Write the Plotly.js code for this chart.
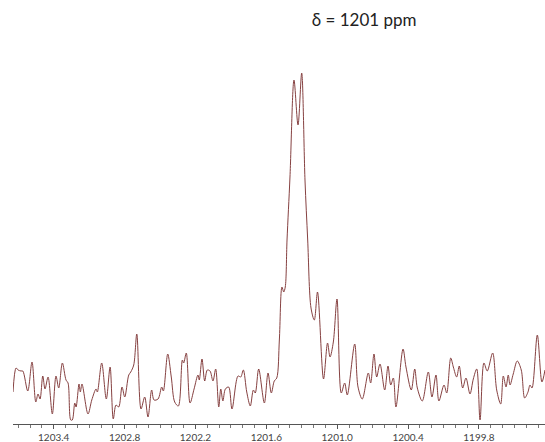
<!DOCTYPE html>
<html>
<head>
<meta charset="utf-8">
<script src="https://cdn.plot.ly/plotly-3.0.1.min.js"></script>
<style>html,body{margin:0;padding:0;background:#fff;}#chart{width:545px;height:442px;}</style>
</head>
<body>
<div id="chart"></div>
<script>
// Chemical shift (ppm) and intensity (arbitrary units)
const shiftPpm = [
  1203.745, 1203.719, 1203.702, 1203.677, 1203.662, 1203.620, 1203.584, 1203.552, 1203.533, 1203.516,
  1203.493, 1203.474, 1203.448, 1203.412, 1203.381, 1203.358, 1203.327, 1203.296, 1203.279, 1203.256,
  1203.243, 1203.222, 1203.211, 1203.186, 1203.175, 1203.161, 1203.110, 1203.078, 1203.042, 1203.031,
  1202.994, 1202.955, 1202.923, 1202.896, 1202.873, 1202.850, 1202.822, 1202.799, 1202.765, 1202.748,
  1202.723, 1202.697, 1202.661, 1202.630, 1202.602, 1202.571, 1202.551, 1202.517, 1202.486, 1202.472,
  1202.435, 1202.405, 1202.376, 1202.345, 1202.311, 1202.300, 1202.278, 1202.246, 1202.212, 1202.179,
  1202.168, 1202.145, 1202.122, 1202.100, 1202.077, 1202.052, 1202.029, 1202.003, 1201.986, 1201.968,
  1201.947, 1201.919, 1201.891, 1201.840, 1201.817, 1201.795, 1201.766, 1201.736, 1201.710, 1201.694,
  1201.665, 1201.617, 1201.586, 1201.558, 1201.533, 1201.512, 1201.490, 1201.468, 1201.453, 1201.440,
  1201.425, 1201.400, 1201.366, 1201.332, 1201.301, 1201.273, 1201.250, 1201.222, 1201.194, 1201.167,
  1201.116, 1201.082, 1201.061, 1201.033, 1201.002, 1200.966, 1200.937, 1200.915, 1200.852, 1200.824,
  1200.788, 1200.737, 1200.717, 1200.689, 1200.666, 1200.638, 1200.598, 1200.570, 1200.547, 1200.525,
  1200.503, 1200.443, 1200.418, 1200.373, 1200.344, 1200.322, 1200.280, 1200.229, 1200.198, 1200.164,
  1200.139, 1200.096, 1200.073, 1200.039, 1200.017, 1199.989, 1199.967, 1199.938, 1199.910, 1199.876,
  1199.848, 1199.819, 1199.791, 1199.758, 1199.730, 1199.684, 1199.650, 1199.616, 1199.594, 1199.571,
  1199.552, 1199.537, 1199.510, 1199.476, 1199.442, 1199.413, 1199.385, 1199.368, 1199.351, 1199.306,
  1199.267, 1199.241
];
const intensity = [
  32, 56, 54, 53, 53, 33, 62, 22, 30, 25,
  48, 35, 47, 10, 48, 36, 61, 44, 41, 4,
  4, 21, 17, 40, 32, 40, 10, 24, 35, 32,
  61, 25, 57, 5, 19, 17, 37, 27, 49, 52,
  59, 90, 15, 27, 7, 34, 24, 25, 37, 33,
  70, 47, 22, 18, 64, 61, 71, 21, 35, 49,
  44, 65, 43, 54, 53, 43, 55, 17, 35, 23,
  35, 37, 15, 48, 47, 54, 32, 18, 34, 31,
  55, 21, 51, 31, 43, 46, 84, 137, 132, 137,
  184, 247, 344, 299, 351, 244, 184, 116, 104, 132,
  45, 81, 67, 82, 125, 31, 41, 29, 80, 37,
  25, 51, 41, 70, 47, 60, 34, 58, 39, 46,
  17, 75, 57, 34, 55, 36, 23, 52, 27, 49,
  23, 39, 31, 66, 57, 47, 58, 36, 46, 30,
  45, 55, 4, 61, 53, 71, 34, 20, 48, 37,
  49, 39, 50, 63, 54, 26, 32, 39, 36, 89,
  42, 54
];
const tickValues = [1203.4, 1202.8, 1202.2, 1201.6, 1201.0, 1200.4, 1199.8];
const tickLabels = ["1203.4", "1202.8", "1202.2", "1201.6", "1201.0", "1200.4", "1199.8"];
const titleText = "\u03b4 = 1201 ppm";

const trace = {
  x: shiftPpm,
  y: intensity,
  type: "scatter",
  mode: "lines",
  line: {color: "#864141", width: 1, shape: "spline", smoothing: 0.9},
  hoverinfo: "skip"
};

const layout = {
  width: 545,
  height: 442,
  margin: {l: 13, r: 0, t: 24, b: 18, pad: 0},
  paper_bgcolor: "#ffffff",
  plot_bgcolor: "#ffffff",
  showlegend: false,
  title: {
    text: titleText,
    font: {family: "Lato, 'Open Sans', sans-serif", size: 17, color: "#222222"},
    x: 0.66, xref: "paper", xanchor: "center",
    y: 0.955, yref: "container", yanchor: "middle"
  },
  xaxis: {
    range: [1203.745, 1199.241],
    tickmode: "array",
    tickvals: tickValues,
    ticktext: tickLabels,
    ticks: "outside",
    ticklen: 4,
    tickcolor: "#555555",
    tickwidth: 1,
    showline: true,
    linecolor: "#555555",
    linewidth: 1,
    showgrid: false,
    zeroline: false,
    tickfont: {family: "Lato, 'Open Sans', sans-serif", size: 10, color: "#444444"},
    minor: {dtick: 0.1, tick0: 1199.8, ticks: "outside", ticklen: 3, tickcolor: "#777777", showgrid: false}
  },
  yaxis: {
    range: [0, 400],
    visible: false,
    showgrid: false,
    zeroline: false
  }
};

Plotly.newPlot("chart", [trace], layout, {displayModeBar: false, staticPlot: true});
</script>
</body>
</html>
